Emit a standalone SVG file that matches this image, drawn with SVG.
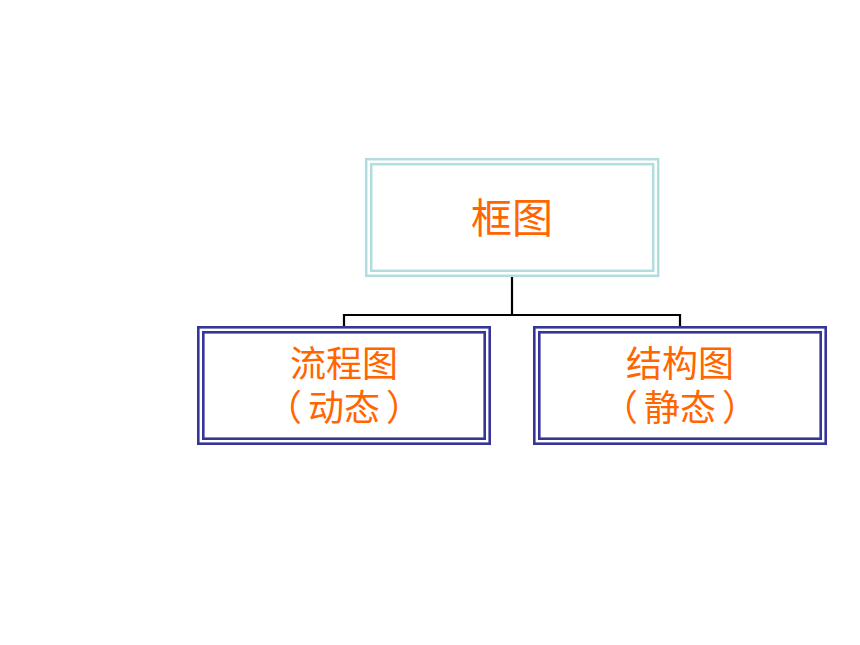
<svg xmlns="http://www.w3.org/2000/svg" width="860" height="645" viewBox="0 0 860 645">
<style>
.t{font-family:"Noto Sans CJK SC","Noto Sans CJK TC",sans-serif;fill:#ff6600;text-anchor:middle}
.top{fill:#fff;stroke:#b2dde0;stroke-width:2.5}
.sub{fill:#fff;stroke:#363699;stroke-width:2.6}
.con{fill:none;stroke:#000;stroke-width:2.2}
</style>
<rect width="860" height="645" fill="#fff"/>
<g id="connectors">
<path class="con" d="M512,277 V315 M344,326 V315 H680 V326"/>
</g>
<g id="node-kuangtu">
<rect class="top" x="366.2" y="159.2" width="292" height="116.6"/>
<rect class="top" x="371.2" y="164.2" width="282" height="106.6"/>
<text class="t" x="512" y="233" font-size="41">框图</text>
</g>
<g id="node-liucheng">
<rect class="sub" x="198.3" y="327.3" width="291.4" height="116.4"/>
<rect class="sub" x="203.3" y="332.3" width="281.4" height="106.4"/>
<text class="t" font-size="36"><tspan x="344" y="377">流程图</tspan><tspan x="344" y="421">（</tspan><tspan dx="6">动态</tspan><tspan dx="6">）</tspan></text>
</g>
<g id="node-jiegou">
<rect class="sub" x="534.3" y="327.3" width="291.4" height="116.4"/>
<rect class="sub" x="539.3" y="332.3" width="281.4" height="106.4"/>
<text class="t" font-size="36"><tspan x="680" y="377">结构图</tspan><tspan x="680" y="421">（</tspan><tspan dx="6">静态</tspan><tspan dx="6">）</tspan></text>
</g>
</svg>
